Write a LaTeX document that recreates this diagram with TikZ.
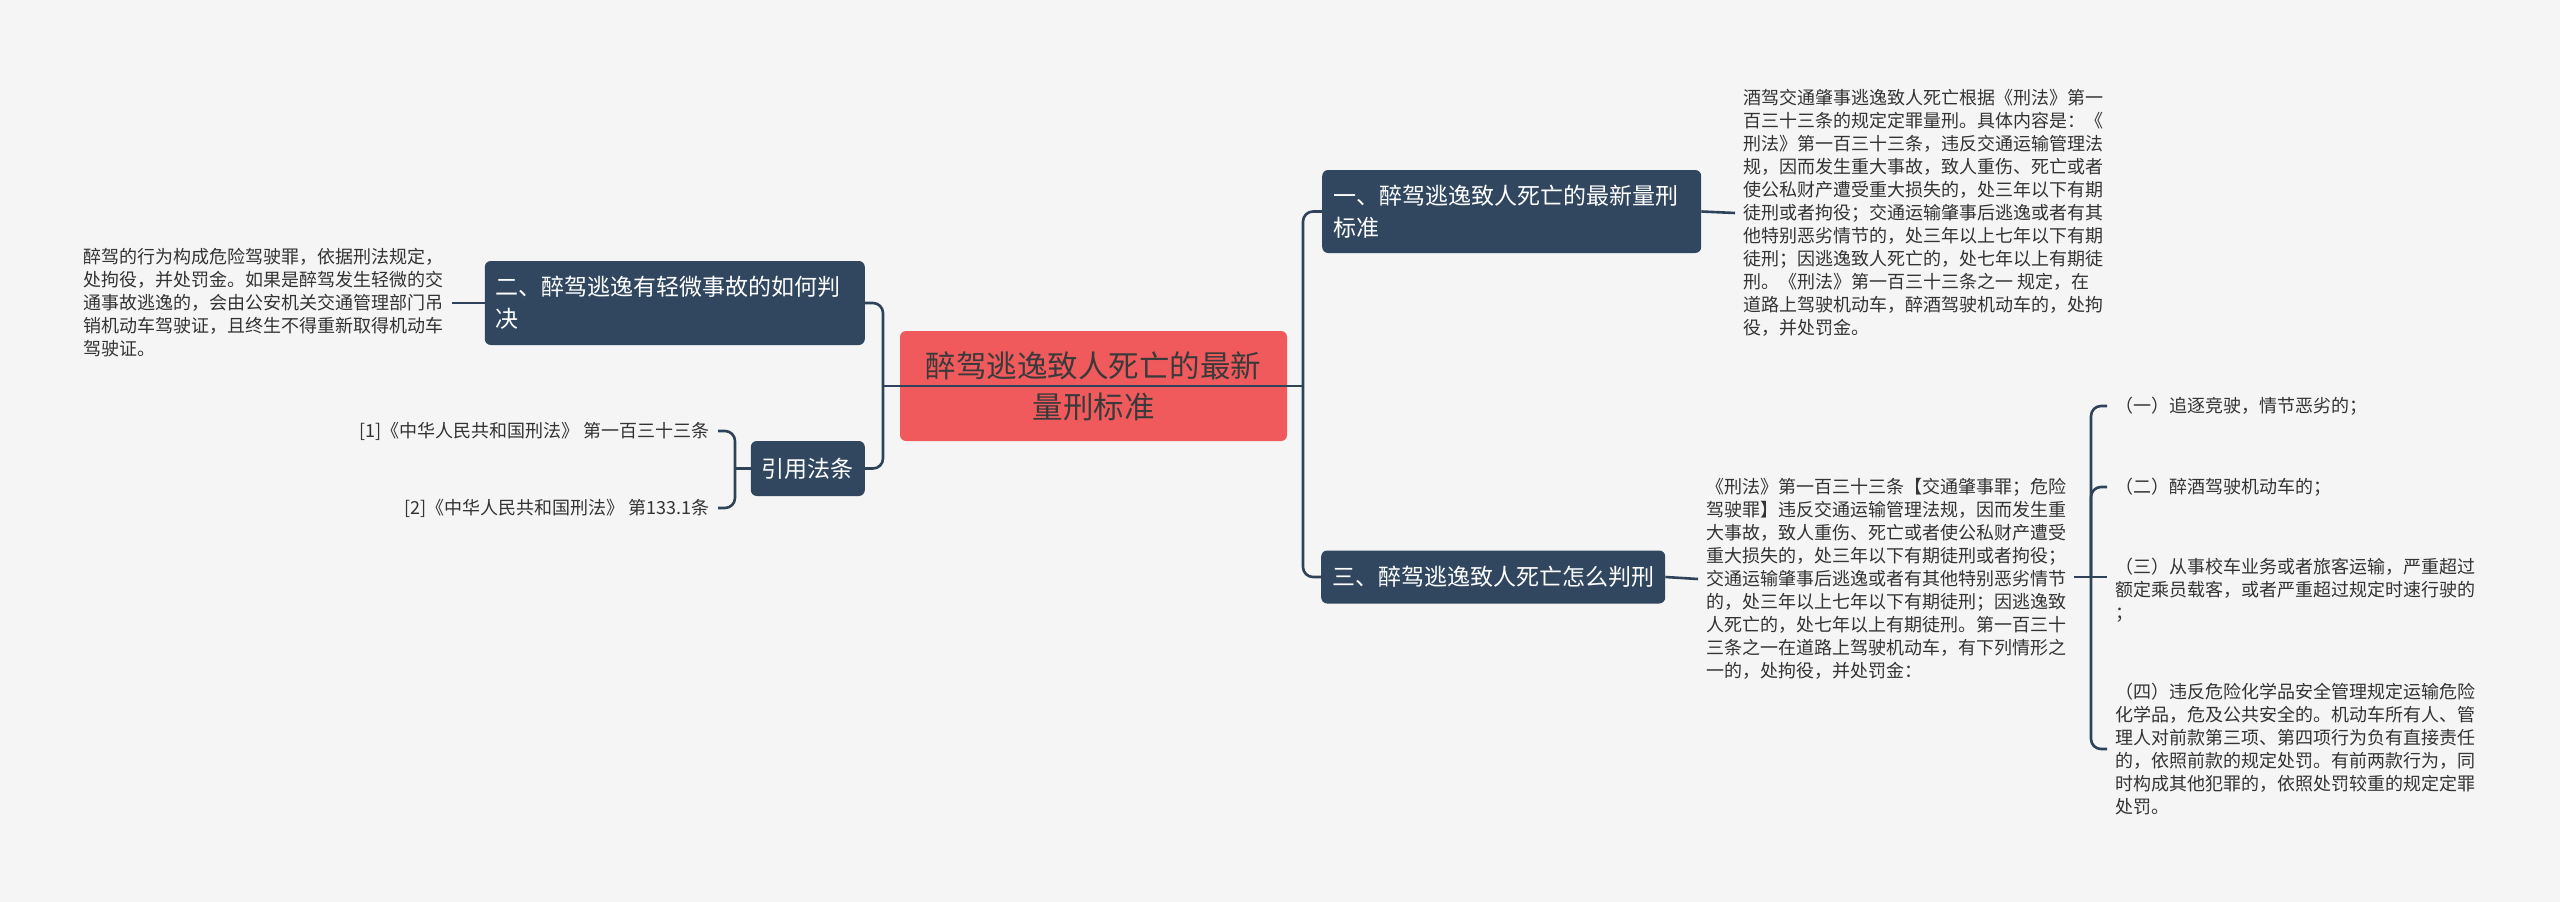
\documentclass[tikz,border=0pt]{standalone}
\usepackage{fontspec}
\setmainfont{Noto Sans CJK SC}
\definecolor{bgc}{HTML}{F5F5F5}
\definecolor{nodec}{HTML}{30475F}
\definecolor{linec}{HTML}{2E435A}
\definecolor{redc}{HTML}{F05A5C}
\definecolor{txtc}{HTML}{333333}
\definecolor{ctxt}{HTML}{3A3A3A}
\begin{document}
\begin{tikzpicture}[x=1pt,y=-1pt,
  conn/.style={draw=linec, line width=2.6pt, rounded corners=10pt},
  topic/.style={fill=nodec, text=white, rounded corners=6pt, font=\fontsize{23}{32}\selectfont, align=left, inner xsep=11pt, inner ysep=0pt},
  body/.style={text=txtc, font=\fontsize{18}{23}\selectfont, align=left, inner xsep=8pt, inner ysep=2pt},
  bodyr/.style={body, align=right}]
\fill[bgc] (0,0) rectangle (2560,902);
\useasboundingbox (0,0) rectangle (2560,902);

% central
\node[fill=redc, text=ctxt, rounded corners=6pt, minimum width=387pt, minimum height=110pt, inner sep=0pt,
  font=\fontsize{30.5}{41}\selectfont, align=center] (c) at (1093.5,386) {醉驾逃逸致人死亡的最新\\量刑标准};

% main topics
\node[topic, text width=357pt, minimum height=83pt, anchor=west] (t1) at (1322,211.5) {一、醉驾逃逸致人死亡的最新量刑\\标准};
\node[topic, minimum width=344pt, minimum height=53pt, anchor=west] (t3) at (1321,577) {三、醉驾逃逸致人死亡怎么判刑};
\node[topic, text width=358pt, minimum height=84pt, anchor=east] (t2) at (865,303) {二、醉驾逃逸有轻微事故的如何判\\决};
\node[topic, minimum width=112pt, minimum height=55pt, anchor=east] (ref) at (865,468.5) {引用法条};

% body texts
\node[body, anchor=east] (d2) at (452,303) {醉驾的行为构成危险驾驶罪，依据刑法规定，\\处拘役，并处罚金。如果是醉驾发生轻微的交\\通事故逃逸的，会由公安机关交通管理部门吊\\销机动车驾驶证，且终生不得重新取得机动车\\驾驶证。};

\node[body, anchor=west] (d1) at (1735,213) {酒驾交通肇事逃逸致人死亡根据《刑法》第一\\百三十三条的规定定罪量刑。具体内容是：《\\刑法》第一百三十三条，违反交通运输管理法\\规，因而发生重大事故，致人重伤、死亡或者\\使公私财产遭受重大损失的，处三年以下有期\\徒刑或者拘役；交通运输肇事后逃逸或者有其\\他特别恶劣情节的，处三年以上七年以下有期\\徒刑；因逃逸致人死亡的，处七年以上有期徒\\刑。《刑法》第一百三十三条之一 规定，在\\道路上驾驶机动车，醉酒驾驶机动车的，处拘\\役，并处罚金。};

\node[body, anchor=west] (d3) at (1698,579) {《刑法》第一百三十三条【交通肇事罪；危险\\驾驶罪】违反交通运输管理法规，因而发生重\\大事故，致人重伤、死亡或者使公私财产遭受\\重大损失的，处三年以下有期徒刑或者拘役；\\交通运输肇事后逃逸或者有其他特别恶劣情节\\的，处三年以上七年以下有期徒刑；因逃逸致\\人死亡的，处七年以上有期徒刑。第一百三十\\三条之一在道路上驾驶机动车，有下列情形之\\一的，处拘役，并处罚金：};

\node[body, anchor=west] (i1) at (2107,406) {（一）追逐竞驶，情节恶劣的；};
\node[body, anchor=west] (i2) at (2107,487) {（二）醉酒驾驶机动车的；};
\node[body, anchor=west] (i3) at (2107,590) {（三）从事校车业务或者旅客运输，严重超过\\额定乘员载客，或者严重超过规定时速行驶的\\；};
\node[body, anchor=west] (i4) at (2107,749) {（四）违反危险化学品安全管理规定运输危险\\化学品，危及公共安全的。机动车所有人、管\\理人对前款第三项、第四项行为负有直接责任\\的，依照前款的规定处罚。有前两款行为，同\\时构成其他犯罪的，依照处罚较重的规定定罪\\处罚。};

\node[bodyr, anchor=east] (r1) at (718,431) {[1]《中华人民共和国刑法》 第一百三十三条};
\node[bodyr, anchor=east] (r2) at (718,508) {[2]《中华人民共和国刑法》 第133.1条};

% junction coordinates
\coordinate (LB) at (883,386);
\coordinate (RB) at (1303,386);
\coordinate (RF) at (735,468.5);
\coordinate (RB2) at (2091,577);

% connectors
\draw[conn] (LB) -- (RB);
\draw[conn] (t1.west) -| (RB) |- (t3.west);
\draw[conn] (t2.east) -| (LB) |- (ref.east);
\draw[conn] (r1.east) -| (RF) |- (r2.east);
\draw[conn] (RF) -- (ref.west);
\draw[conn] (d2.east) -- (t2.west);
\draw[conn] (t1.east) -- (d1.west);
\draw[conn] (t3.east) -- (d3.west);
\draw[conn] (d3.east |- RB2) -- (i3.west |- RB2);
\draw[conn] (i1.west) -| (RB2) |- (i4.west);
\draw[conn] (i2.west) -| (RB2);
\end{tikzpicture}
\end{document}
